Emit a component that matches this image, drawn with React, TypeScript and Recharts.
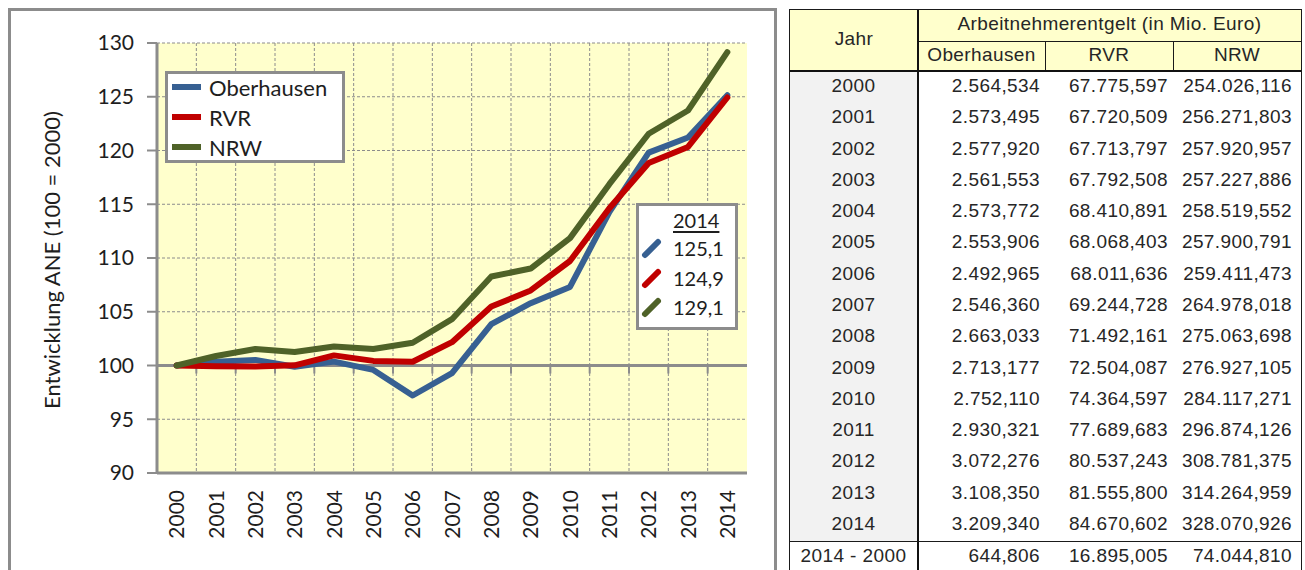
import React from "react";
import {
  LineChart,
  Line,
  XAxis,
  YAxis,
  CartesianGrid,
  ReferenceLine,
} from "recharts";

// chart: index values (100 = 2000)
const years = [
  "2000", "2001", "2002", "2003", "2004", "2005", "2006", "2007",
  "2008", "2009", "2010", "2011", "2012", "2013", "2014",
];
const oberhausen = [
  100, 100.35, 100.52, 99.88, 100.36, 99.59, 97.21, 99.29, 103.84, 105.8,
  107.31, 114.26, 119.8, 121.21, 125.14,
];
const rvr = [
  100, 99.92, 99.91, 100.02, 100.94, 100.43, 100.35, 102.17, 105.48, 106.98,
  109.72, 114.63, 118.83, 120.33, 124.93,
];
const nrw = [
  100, 100.88, 101.53, 101.26, 101.77, 101.53, 102.12, 104.31, 108.28, 109.02,
  111.85, 116.87, 121.56, 123.72, 129.15,
];
const yTicks = [90, 95, 100, 105, 110, 115, 120, 125, 130];
const latestLabels = ["125,1", "124,9", "129,1"];

// table: Arbeitnehmerentgelt in Mio. Euro
const tblOberhausen = [
  "2.564,534", "2.573,495", "2.577,920", "2.561,553", "2.573,772", "2.553,906",
  "2.492,965", "2.546,360", "2.663,033", "2.713,177", "2.752,110", "2.930,321",
  "3.072,276", "3.108,350", "3.209,340",
];
const tblRvr = [
  "67.775,597", "67.720,509", "67.713,797", "67.792,508", "68.410,891",
  "68.068,403", "68.011,636", "69.244,728", "71.492,161", "72.504,087",
  "74.364,597", "77.689,683", "80.537,243", "81.555,800", "84.670,602",
];
const tblNrw = [
  "254.026,116", "256.271,803", "257.920,957", "257.227,886", "258.519,552",
  "257.900,791", "259.411,473", "264.978,018", "275.063,698", "276.927,105",
  "284.117,271", "296.874,126", "308.781,375", "314.264,959", "328.070,926",
];
const diffLabel = "2014 - 2000";
const diffRow = ["644,806", "16.895,005", "74.044,810"];

const series = [
  { key: "oberhausen", name: "Oberhausen", color: "#376092", values: oberhausen },
  { key: "rvr", name: "RVR", color: "#C00000", values: rvr },
  { key: "nrw", name: "NRW", color: "#4F6228", values: nrw },
];

const chartData = years.map((year, i) => {
  const row: Record<string, string | number> = { year };
  series.forEach((s) => (row[s.key] = s.values[i]));
  return row;
});

const CHART_W = 777;
const CHART_H = 570;
const PLOT_W = 590;
const FRAME = "#8c8c8c";
const TEXT = "#1e1e1e";
const CHART_FONT = "Lato, 'Open Sans', sans-serif";
const TABLE_FONT = "'Liberation Sans', Arial, sans-serif";

const YearTick = ({ x, y, payload }: any) => (
  <g transform={`translate(${x},${y + 9}) rotate(-90)`}>
    <text
      textAnchor="end"
      dy="0.36em"
      fontSize={21}
      fill={TEXT}
      fontFamily={CHART_FONT}
    >
      {payload.value}
    </text>
  </g>
);

const AxisTitle = ({ viewBox }: any) => {
  const cx = viewBox.x - 45;
  const cy = viewBox.y + viewBox.height / 2 + 2;
  return (
    <text
      x={cx}
      y={cy}
      transform={`rotate(-90, ${cx}, ${cy})`}
      textAnchor="middle"
      dy="0.36em"
      fontSize={22}
      fill={TEXT}
      fontFamily={CHART_FONT}
    >
      Entwicklung ANE (100 = 2000)
    </text>
  );
};

// line at 100 with the category tick marks hanging below it
const BaseLine = (props: any) => {
  const { x1, x2, y1 } = props;
  const left = Math.min(x1, x2);
  const w = Math.abs(x2 - x1);
  const n = years.length;
  return (
    <g>
      <line x1={x1} x2={x2} y1={y1} y2={y1} stroke={FRAME} strokeWidth={3} />
      {Array.from({ length: n - 1 }, (_, i) => {
        const tx = left + ((i + 1) * w) / n;
        return (
          <line
            key={i}
            x1={tx}
            x2={tx}
            y1={y1}
            y2={y1 + 8}
            stroke={FRAME}
            strokeWidth={2}
          />
        );
      })}
    </g>
  );
};

function IndexChart() {
  const half = PLOT_W / (2 * years.length);
  const axisLine = { stroke: FRAME, strokeWidth: 3 };
  return (
    <LineChart
      width={CHART_W}
      height={CHART_H}
      data={chartData}
      margin={{ top: 43, right: 30, bottom: 27, left: 97 }}
    >
      <CartesianGrid
        stroke={FRAME}
        strokeDasharray="3 2"
        fill="#FFFFCC"
        fillOpacity={1}
        verticalCoordinatesGenerator={({ offset }: any) =>
          Array.from(
            { length: years.length - 1 },
            (_, i) => offset.left + ((i + 1) * offset.width) / years.length
          )
        }
      />
      <XAxis
        dataKey="year"
        height={70}
        interval={0}
        padding={{ left: half, right: half }}
        axisLine={axisLine}
        tickLine={false}
        tick={<YearTick />}
      />
      <XAxis
        xAxisId="top"
        dataKey="year"
        orientation="top"
        height={0}
        axisLine={axisLine}
        tick={false}
        tickLine={false}
      />
      <YAxis
        type="number"
        domain={[90, 130]}
        ticks={yTicks}
        interval={0}
        width={60}
        axisLine={axisLine}
        tickLine={{ stroke: FRAME, strokeWidth: 2 }}
        tickSize={10}
        tickMargin={13}
        tick={{ fontSize: 21, fill: TEXT, fontFamily: CHART_FONT }}
        label={<AxisTitle />}
      />
      <YAxis
        yAxisId="right"
        orientation="right"
        domain={[90, 130]}
        width={0}
        axisLine={axisLine}
        tick={false}
        tickLine={false}
      />
      <ReferenceLine y={100} shape={BaseLine} />
      {series.map((s) => (
        <Line
          key={s.key}
          type="linear"
          dataKey={s.key}
          name={s.name}
          stroke={s.color}
          strokeWidth={6}
          strokeLinejoin="round"
          strokeLinecap="round"
          dot={false}
          activeDot={false}
          isAnimationActive={false}
        />
      ))}
    </LineChart>
  );
}

function SeriesLegend() {
  return (
    <div
      style={{
        position: "absolute",
        left: 165,
        top: 71,
        width: 180,
        height: 92,
        boxSizing: "border-box",
        border: `3px solid ${FRAME}`,
        background: "#fff",
        fontFamily: CHART_FONT,
        fontSize: 22,
        color: TEXT,
      }}
    >
      {series.map((s, i) => (
        <div
          key={s.key}
          style={{
            position: "absolute",
            left: 0,
            top: -2 + i * 30,
            height: 30,
            display: "flex",
            alignItems: "center",
          }}
        >
          <span
            style={{
              display: "inline-block",
              marginLeft: 4,
              width: 29,
              height: 6,
              background: s.color,
            }}
          />
          <span style={{ marginLeft: 8 }}>{s.name}</span>
        </div>
      ))}
    </div>
  );
}

function LatestBox() {
  return (
    <div
      style={{
        position: "absolute",
        left: 636,
        top: 203,
        width: 102,
        height: 127,
        boxSizing: "border-box",
        border: `3px solid ${FRAME}`,
        background: "#fff",
        fontFamily: CHART_FONT,
        fontSize: 20,
        color: TEXT,
      }}
    >
      <div
        style={{
          position: "absolute",
          left: 34,
          top: 0,
          height: 28,
          lineHeight: "28px",
          textDecoration: "underline",
          textUnderlineOffset: 3,
        }}
      >
        {years[years.length - 1]}
      </div>
      {series.map((s, i) => (
        <div
          key={s.key}
          style={{
            position: "absolute",
            left: 0,
            top: 27 + i * 29.5,
            height: 30,
            display: "flex",
            alignItems: "center",
          }}
        >
          <svg width={30} height={24} style={{ display: "block" }}>
            <line
              x1={6}
              y1={19}
              x2={19}
              y2={6}
              stroke={s.color}
              strokeWidth={6}
              strokeLinecap="round"
            />
          </svg>
          <span style={{ marginLeft: 4 }}>{latestLabels[i]}</span>
        </div>
      ))}
    </div>
  );
}

// column widths of the table
const colW = [128, 127, 128, 128];
const ROW_H = 31.27;
const HEAD1 = 31;
const HEAD2 = 30;

function cellStyle(left: number, top: number, width: number, height: number, align: "center" | "right", padRight = 0): React.CSSProperties {
  return {
    position: "absolute",
    left,
    top,
    width,
    height,
    boxSizing: "border-box",
    display: "flex",
    alignItems: "center",
    justifyContent: align === "center" ? "center" : "flex-end",
    paddingRight: padRight,
    paddingBottom: 3,
    whiteSpace: "nowrap",
  };
}

function DataTable() {
  const xs = [0, colW[0], colW[0] + colW[1], colW[0] + colW[1] + colW[2]];
  const total = colW.reduce((a, b) => a + b, 0);
  const bodyTop = HEAD1 + HEAD2 + 1;
  const bodyH = ROW_H * years.length;
  const pads = [5, 5, 9];
  const cols = [tblOberhausen, tblRvr, tblNrw];
  return (
    <div
      style={{
        position: "absolute",
        left: 789,
        top: 9,
        width: total + 2,
        height: 600,
        boxSizing: "border-box",
        border: "1px solid #1a1a1a",
        background: "#fff",
        fontFamily: TABLE_FONT,
        fontSize: 19,
        letterSpacing: 0.4,
        color: "#262626",
      }}
    >
      {/* header background */}
      <div style={{ position: "absolute", left: 0, top: 0, width: total, height: HEAD1 + HEAD2, background: "#FFFFCC" }} />
      {/* Jahr column background */}
      <div style={{ position: "absolute", left: 0, top: bodyTop, width: colW[0], height: bodyH, background: "#F2F2F2" }} />
      <div style={cellStyle(0, 0, colW[0], HEAD1 + HEAD2, "center")}>Jahr</div>
      <div style={cellStyle(colW[0], 0, total - colW[0], HEAD1, "center")}>
        Arbeitnehmerentgelt (in Mio. Euro)
      </div>
      {series.map((s, i) => (
        <div key={s.key} style={cellStyle(xs[i + 1], HEAD1, colW[i + 1], HEAD2, "center")}>
          {s.name}
        </div>
      ))}
      {/* header lines */}
      <div style={{ position: "absolute", left: colW[0], top: HEAD1 - 0.5, width: total - colW[0], height: 1, background: "#1a1a1a" }} />
      {[xs[2], xs[3]].map((x, i) => (
        <div key={i} style={{ position: "absolute", left: x - 0.5, top: HEAD1, width: 1.5, height: HEAD2, background: "#1a1a1a" }} />
      ))}
      <div style={{ position: "absolute", left: 0, top: HEAD1 + HEAD2 - 1, width: total, height: 2, background: "#111" }} />
      <div style={{ position: "absolute", left: colW[0] - 1, top: 0, width: 2, height: 600, background: "#111" }} />
      {/* body */}
      {years.map((y, r) => (
        <React.Fragment key={y}>
          <div style={cellStyle(0, bodyTop + r * ROW_H, colW[0] - 1, ROW_H, "center")}>{y}</div>
          {cols.map((c, k) => (
            <div key={k} style={cellStyle(xs[k + 1] + 1, bodyTop + r * ROW_H, colW[k + 1] - 1, ROW_H, "right", pads[k])}>
              {c[r]}
            </div>
          ))}
        </React.Fragment>
      ))}
      {/* difference row */}
      <div style={{ position: "absolute", left: 0, top: bodyTop + bodyH - 0.5, width: total, height: 1, background: "#1a1a1a" }} />
      <div style={cellStyle(0, bodyTop + bodyH + 1, colW[0] - 1, 30, "center")}>{diffLabel}</div>
      {diffRow.map((v, k) => (
        <div key={k} style={cellStyle(xs[k + 1] + 1, bodyTop + bodyH + 1, colW[k + 1] - 1, 30, "right", pads[k])}>
          {v}
        </div>
      ))}
    </div>
  );
}

export default function App() {
  return (
    <div
      style={{
        position: "absolute",
        left: 0,
        top: 0,
        width: 1305,
        height: 570,
        overflow: "hidden",
        background: "#fff",
      }}
    >
      <div
        style={{
          position: "absolute",
          left: 8,
          top: 8,
          width: 769,
          height: 600,
          boxSizing: "border-box",
          border: `3px solid ${FRAME}`,
        }}
      />
      <div style={{ position: "absolute", left: 0, top: 0 }}>
        <IndexChart />
      </div>
      <SeriesLegend />
      <LatestBox />
      <DataTable />
    </div>
  );
}
